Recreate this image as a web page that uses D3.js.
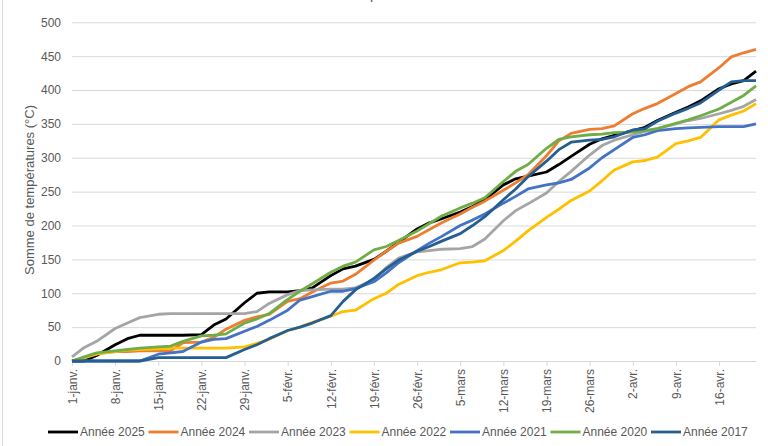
<!DOCTYPE html>
<html lang="fr">
<head>
<meta charset="utf-8">
<script src="https://cdn.jsdelivr.net/npm/d3@7"></script>
<style>
  body { margin: 0; background: #fff; }
  svg { display: block; font-family: "Liberation Sans", Arial, sans-serif; }
</style>
</head>
<body>
<svg id="chart"></svg>
<script>
// jours depuis le 1er janvier (points relevés)
const dayIndex = [0, 2, 4, 7, 9, 11, 14, 16, 18, 21, 23, 25, 28, 30, 32, 35, 37, 39,
  42, 44, 46, 49, 51, 53, 56, 58, 60, 63, 65, 67, 70, 72, 74, 77, 79, 81, 84, 86, 88,
  91, 93, 95, 98, 100, 102, 105, 107, 109, 111];

const annee2025 = [0, 0, 8, 24, 33, 38, 38, 38, 38, 39, 53, 62, 86, 100, 102, 102, 104, 108,
  126, 136, 140, 150, 162, 175, 195, 204, 210, 220, 228, 238, 260, 269, 273, 279, 290, 302,
  320, 328, 333, 340, 345, 355, 367, 375, 384, 402, 409, 414, 428];
const annee2024 = [0, 5, 11, 14, 14, 15, 15, 15, 27, 28, 35, 47, 60, 65, 69, 88, 92, 102,
  115, 118, 128, 149, 162, 174, 184, 194, 204, 217, 227, 236, 252, 263, 275, 303, 325, 336,
  342, 343, 347, 365, 373, 380, 395, 405, 412, 433, 449, 455, 460];
const annee2023 = [6, 20, 29, 48, 56, 64, 69, 70, 70, 70, 70, 70, 70, 73, 85, 98, 104, 105,
  106, 106, 108, 120, 138, 152, 161, 163, 165, 166, 169, 180, 207, 222, 232, 248, 265, 280,
  304, 318, 326, 334, 339, 343, 350, 355, 358, 365, 370, 376, 386];
const annee2022 = [0, 5, 10, 14, 16, 17, 18, 19, 19, 19, 19, 19, 21, 26, 32, 45, 50, 57,
  66, 73, 75, 92, 100, 113, 126, 131, 135, 145, 146, 148, 163, 177, 192, 212, 224, 237,
  251, 266, 282, 294, 296, 301, 321, 325, 330, 356, 363, 369, 380];
const annee2021 = [0, 0, 0, 0, 0, 0, 10, 12, 14, 28, 32, 33, 44, 51, 60, 75, 90, 95,
  103, 103, 107, 117, 130, 145, 163, 174, 184, 200, 208, 217, 233, 243, 254, 260, 263, 268,
  285, 300, 312, 330, 334, 340, 343, 344, 345, 346, 346, 346, 350];
const annee2020 = [0, 6, 12, 15, 17, 19, 21, 22, 29, 37, 38, 40, 56, 62, 70, 91, 103, 114,
  131, 140, 146, 164, 169, 178, 192, 203, 214, 226, 233, 241, 265, 280, 290, 314, 327, 331,
  334, 335, 337, 338, 340, 343, 351, 356, 362, 372, 382, 392, 406];
const annee2017 = [0, 0, 0, 0, 0, 0, 5, 5, 5, 5, 5, 5, 17, 24, 33, 45, 50, 56,
  67, 88, 105, 122, 136, 149, 162, 169, 177, 188, 200, 213, 238, 254, 272, 295, 312, 323,
  326, 327, 331, 341, 343, 354, 366, 373, 381, 400, 412, 414, 414];

const seriesNames = ["Année 2025", "Année 2024", "Année 2023", "Année 2022",
  "Année 2021", "Année 2020", "Année 2017"];
const seriesValues = [annee2025, annee2024, annee2023, annee2022, annee2021, annee2020, annee2017];
const seriesColors = ["#000000", "#ED7D31", "#A5A5A5", "#FFC000", "#4472C4", "#70AD47", "#255E91"];

const yTicks = [0, 50, 100, 150, 200, 250, 300, 350, 400, 450, 500];
const xTickDays = [0, 7, 14, 21, 28, 35, 42, 49, 56, 63, 70, 77, 84, 91, 98, 105];

const width = 768;
const height = 446;
const plotLeft = 72;
const plotRight = 756;
const plotTop = 22.3;
const plotBottom = 361;
const start = new Date(2025, 0, 1);
const toDate = (d) => d3.timeDay.offset(start, d);

const fr = d3.timeFormatLocale({
  dateTime: "%A %e %B %Y à %X",
  date: "%d/%m/%Y",
  time: "%H:%M:%S",
  periods: ["AM", "PM"],
  days: ["dimanche", "lundi", "mardi", "mercredi", "jeudi", "vendredi", "samedi"],
  shortDays: ["dim.", "lun.", "mar.", "mer.", "jeu.", "ven.", "sam."],
  months: ["janvier", "février", "mars", "avril", "mai", "juin", "juillet", "août",
    "septembre", "octobre", "novembre", "décembre"],
  shortMonths: ["janv.", "févr.", "mars", "avr.", "mai", "juin", "juil.", "août",
    "sept.", "oct.", "nov.", "déc."],
});
const fmt = fr.format("%-d-%b");

const svg = d3.select("#chart")
  .attr("width", width)
  .attr("height", height)
  .attr("viewBox", `0 0 ${width} ${height}`);

svg.append("rect").attr("width", width).attr("height", height).attr("fill", "#fff");

// bord du graphique (seul le côté gauche est visible)
svg.append("line")
  .attr("x1", 2.5).attr("x2", 2.5)
  .attr("y1", 0).attr("y2", height)
  .attr("stroke", "#d9d9d9");

// titre coupé en haut
svg.append("text")
  .attr("x", 384)
  .attr("y", -1)
  .attr("text-anchor", "middle")
  .attr("font-size", 14)
  .attr("fill", "#595959")
  .text("Somme de températures cumulées");

const x = d3.scaleTime()
  .domain([start, toDate(111)])
  .range([plotLeft, plotRight]);

const y = d3.scaleLinear()
  .domain([0, 500])
  .range([plotBottom, plotTop]);

// axe Y + grille
const yAxis = svg.append("g")
  .attr("transform", `translate(${plotLeft},0)`)
  .call(d3.axisLeft(y)
    .tickValues(yTicks)
    .tickSize(-(plotRight - plotLeft))
    .tickPadding(11));
yAxis.select(".domain").remove();
yAxis.selectAll(".tick line").attr("stroke", "#d9d9d9");
yAxis.selectAll(".tick text")
  .attr("fill", "#595959")
  .attr("font-size", 12)
  .attr("font-family", "Liberation Sans, Arial, sans-serif");

// axe X
const xAxis = svg.append("g")
  .attr("transform", `translate(0,${plotBottom})`)
  .call(d3.axisBottom(x)
    .tickValues(xTickDays.map(toDate))
    .tickFormat(fmt)
    .tickSize(5)
    .tickSizeOuter(0));
xAxis.select(".domain").attr("stroke", "#d9d9d9");
xAxis.selectAll(".tick line").attr("stroke", "#d9d9d9");
xAxis.selectAll(".tick text")
  .attr("fill", "#595959")
  .attr("font-size", 12)
  .attr("font-family", "Liberation Sans, Arial, sans-serif")
  .attr("transform", "rotate(-90)")
  .attr("text-anchor", "end")
  .attr("x", -8)
  .attr("y", 0)
  .attr("dy", "0.35em");

// titre de l'axe Y
svg.append("text")
  .attr("transform", "translate(34,190) rotate(-90)")
  .attr("text-anchor", "middle")
  .attr("font-size", 13)
  .attr("fill", "#595959")
  .text("Somme de températures (°C)");

// courbes
const line = d3.line()
  .x((d) => x(toDate(d.day)))
  .y((d) => y(d.value));

seriesValues.forEach((vals, i) => {
  const pts = dayIndex.map((day, j) => ({ day, value: vals[j] }));
  svg.append("path")
    .datum(pts)
    .attr("fill", "none")
    .attr("stroke", seriesColors[i])
    .attr("stroke-width", 2.8)
    .attr("stroke-linejoin", "round")
    .attr("d", line);
});

// légende
const legend = svg.append("g").attr("transform", "translate(48,432)");
seriesNames.forEach((name, i) => {
  const g = legend.append("g").attr("transform", `translate(${i * 100.5},0)`);
  g.append("line")
    .attr("x1", 0).attr("x2", 30)
    .attr("stroke", seriesColors[i])
    .attr("stroke-width", 2.8);
  g.append("text")
    .attr("x", 32)
    .attr("dy", "0.35em")
    .attr("font-size", 12)
    .attr("fill", "#595959")
    .text(name);
});
</script>
</body>
</html>
